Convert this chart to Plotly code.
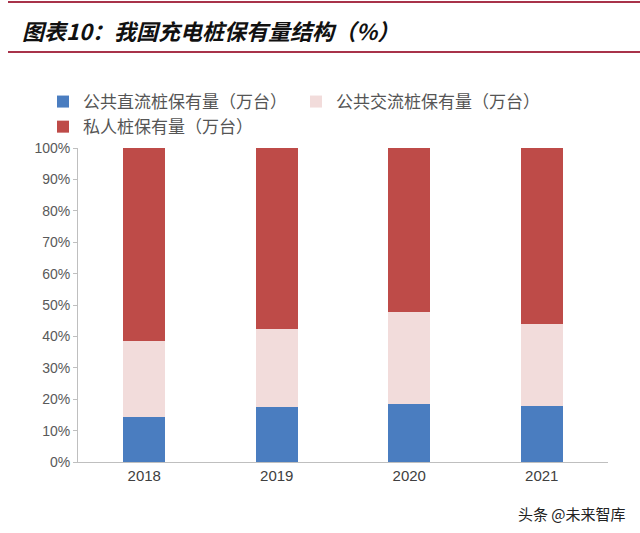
import plotly.graph_objects as go

years = ["2018", "2019", "2020", "2021"]
public_dc = [14.2, 17.5, 18.5, 17.8]
public_ac = [24.3, 25.0, 29.4, 26.2]
private = [61.5, 57.5, 52.1, 56.0]
series_names = ["公共直流桩保有量（万台）", "公共交流桩保有量（万台）", "私人桩保有量（万台）"]
colors = ["#4A7DC0", "#F2DCDB", "#BE4B48"]
yticks = [0, 10, 20, 30, 40, 50, 60, 70, 80, 90, 100]

font_cjk = "Noto Sans CJK SC, sans-serif"

fig = go.Figure()
for name, vals, col in zip(series_names, [public_dc, public_ac, private], colors):
    fig.add_trace(go.Bar(x=years, y=vals, name=name, marker=dict(color=col, line=dict(width=0))))

fig.update_layout(
    barmode="stack",
    bargap=0.68,
    width=640, height=533,
    paper_bgcolor="white", plot_bgcolor="white",
    margin=dict(l=78, r=32, t=148, b=71, autoexpand=False),
    showlegend=True,
    legend=dict(orientation="h", x=43 / 640, xanchor="left", y=1 - 84 / 533, yanchor="top",
                xref="container", yref="container", entrywidth=208, entrywidthmode="pixels",
                font=dict(family=font_cjk, size=17, color="#555555"),
                traceorder="normal", tracegroupgap=0, bgcolor="rgba(0,0,0,0)"),
    xaxis=dict(showline=True, linecolor="#BFBFBF", linewidth=1, ticks="",
               tickfont=dict(family="Liberation Sans, Arial, sans-serif", size=15, color="#404040"),
               showgrid=False, zeroline=False),
    yaxis=dict(range=[0, 100], tickvals=yticks, ticktext=[f"{v}%" for v in yticks],
               showline=True, linecolor="#BFBFBF", linewidth=1, ticks="outside", ticklen=4,
               tickcolor="#BFBFBF", showgrid=False, zeroline=False,
               tickfont=dict(family="Liberation Sans, Arial, sans-serif", size=14, color="#595959")),
    font=dict(family=font_cjk),
)

fig.add_annotation(text="<b><i>图表10：我国充电桩保有量结构（%）</i></b>", xref="paper", yref="paper",
                   x=(20 - 78) / 530, y=1 + (148 - 30) / 314, xanchor="left", yanchor="middle",
                   showarrow=False, font=dict(family=font_cjk, size=22, color="#111111"))
fig.add_annotation(text="头条 @未来智库", xref="paper", yref="paper",
                   x=(628 - 78) / 530, y=-(513 - 462) / 314, xanchor="right", yanchor="middle",
                   showarrow=False, font=dict(family=font_cjk, size=15, color="#222222"))
for yy in [2, 52]:
    fig.add_shape(type="line", xref="paper", yref="paper",
                  x0=(8 - 78) / 530, x1=(640 - 78) / 530,
                  y0=1 + (148 - yy) / 314, y1=1 + (148 - yy) / 314,
                  line=dict(color="#A8324A", width=2))

fig.write_html("out.html", config={"displayModeBar": False},
               post_script="document.body.style.margin='0';")
